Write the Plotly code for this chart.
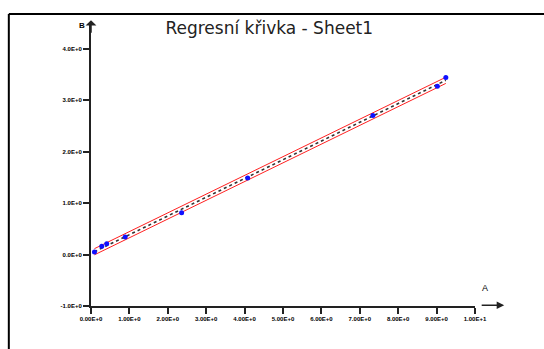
import numpy as np
import plotly.graph_objects as go

# Measured pairs (A, B)
a_vals = [0.09, 0.28, 0.41, 0.89, 2.36, 4.08, 7.34, 9.02, 9.24]
b_vals = [0.05, 0.16, 0.21, 0.34, 0.81, 1.49, 2.70, 3.27, 3.44]

x_ticks = [0, 1, 2, 3, 4, 5, 6, 7, 8, 9, 10]
x_tick_text = ["0.00E+0", "1.00E+0", "2.00E+0", "3.00E+0", "4.00E+0", "5.00E+0",
               "6.00E+0", "7.00E+0", "8.00E+0", "9.00E+0", "1.00E+1"]
y_ticks = [-1, 0, 1, 2, 3, 4]
y_tick_text = ["-1.0E+0", "0.0E+0", "1.0E+0", "2.0E+0", "3.0E+0", "4.0E+0"]

band_half = 0.06  # half-width of the confidence band

# linear regression line
coef = np.polyfit(a_vals, b_vals, 1)
xs = np.linspace(min(a_vals), max(a_vals), 120)
ys = np.polyval(coef, xs)

fig = go.Figure()
fig.add_trace(go.Scatter(x=xs, y=ys + band_half, mode="lines",
                         line=dict(color="#ff2020", width=1), hoverinfo="skip"))
fig.add_trace(go.Scatter(x=xs, y=ys - band_half, mode="lines",
                         line=dict(color="#ff2020", width=1), hoverinfo="skip"))
fig.add_trace(go.Scatter(x=xs, y=ys, mode="lines",
                         line=dict(color="#333333", width=1.6, dash="dot")))
fig.add_trace(go.Scatter(x=a_vals, y=b_vals, mode="markers",
                         marker=dict(color="#1010ff", size=5)))

tick_font = dict(size=6, family="Liberation Sans", weight="bold", color="black")

fig.update_layout(
    width=544, height=349,
    margin=dict(l=91, r=69, t=23, b=43),
    paper_bgcolor="white", plot_bgcolor="white",
    showlegend=False,
    font=dict(family="Liberation Sans, Arial, sans-serif", color="black"),
    title=dict(text="Regresní křivka - Sheet1", x=0.495, xref="container",
               xanchor="center", yref="container", y=0.92, yanchor="middle",
               font=dict(size=17, family="DejaVu Sans", color="#222222")),
    xaxis=dict(range=[0, 10], tickvals=x_ticks, ticktext=x_tick_text,
               showgrid=False, zeroline=False, showline=True, linecolor="#222",
               linewidth=2, ticks="outside", ticklen=6, tickcolor="#222",
               tickwidth=1.5, tickfont=tick_font, fixedrange=True),
    yaxis=dict(range=[-1, 4.5], tickvals=y_ticks, ticktext=y_tick_text,
               showgrid=False, zeroline=False, showline=True, linecolor="#222",
               linewidth=2, ticks="outside", ticklen=6, tickcolor="#222",
               tickwidth=1.5, tickfont=tick_font, fixedrange=True),
)

# outer frame (top and left edges)
fig.add_shape(type="line", xref="paper", yref="paper", x0=-0.214, x1=1.2,
              y0=1.032, y1=1.032, line=dict(color="black", width=2))
fig.add_shape(type="line", xref="paper", yref="paper", x0=-0.214, x1=-0.214,
              y0=-0.2, y1=1.032, line=dict(color="black", width=2))

# axis arrows and names
fig.add_annotation(xref="paper", yref="paper", x=0, y=1.01, ax=0, ay=14,
                   showarrow=True, arrowhead=1, arrowsize=1.2, arrowwidth=1.5,
                   arrowcolor="#222", text="")
fig.add_annotation(xref="paper", yref="paper", x=-0.037, y=1.015, text="B",
                   showarrow=False, font=dict(size=8, weight="bold"))
fig.add_annotation(xref="paper", yref="paper", x=1.076, y=0.003, ax=-24, ay=0,
                   showarrow=True, arrowhead=2, arrowsize=1, arrowwidth=1.5,
                   arrowcolor="#222", text="")
fig.add_annotation(xref="paper", yref="paper", x=1.04, y=0.04, text="A",
                   showarrow=False, font=dict(size=9))

fig.write_html("out.html")
